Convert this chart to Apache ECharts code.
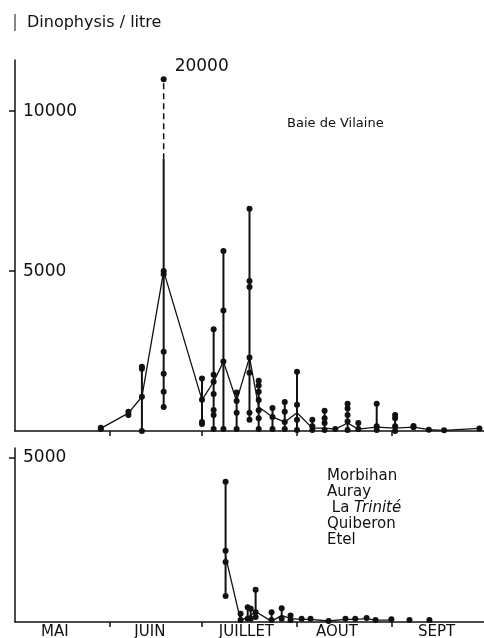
<!DOCTYPE html>
<html>
<head>
<meta charset="utf-8">
<script src="https://cdn.jsdelivr.net/npm/echarts@6/dist/echarts.min.js"></script>
<style>
html, body { margin: 0; padding: 0; background: #fff; }
#chart { width: 484px; height: 638px; }
</style>
</head>
<body>
<div id="chart"></div>
<script>
// x = days counted from 1 May
var monthNames = ['MAI', 'JUIN', 'JUILLET', 'AOUT', 'SEPT'];
var monthLabelDays = [13, 44, 75.5, 105, 137.5];
var monthStartDays = [31, 61, 92, 123];

// Baie de Vilaine : sampling days, mean, station values (Dinophysis / litre)
var vilDays = [28, 37, 41.4, 48.5, 61, 64.8, 68, 72.3, 76.5, 79.5, 84, 88, 92, 97, 101, 104.5, 108.5, 112, 118, 124, 130, 135, 140, 151.5];
var vilMean = [80, 560, 1070, 5000, 975, 1540, 2170, 940, 2300, 750, 440, 280, 570, 90, 90, 60, 250, 60, 120, 90, 120, 40, 20, 80];
var vilSamples = [
    [60, 100], [500, 600], [0, 1070, 1950, 2010], [750, 1230, 1790, 2480, 4900, 5000],
    [220, 280, 975, 1640], [60, 500, 660, 1160, 1540, 1760, 3180], [60, 2170, 3770, 5630],
    [60, 570, 940, 1200], [350, 570, 1820, 2300, 4500, 4690, 6950], [60, 400, 650, 970, 1230, 1420, 1570],
    [60, 440, 720], [60, 280, 600, 910], [30, 350, 820, 1850], [30, 150, 350], [30, 250, 400, 630],
    [60], [30, 300, 500, 700, 850], [60, 250], [30, 150, 850], [0, 150, 400, 500], [120, 160],
    [40], [20], [80]
];
// off-scale maximum (axis broken, drawn dashed)
var vilPeakDay = 48.5;
var vilPeakBreak = 8500;
var vilPeakDrawn = 11000;
var vilPeakLabel = '20000';

// Morbihan, Auray, La Trinité, Quiberon, Etel
var morDays = [68.7, 73.6, 75.9, 76.9, 78.5, 83.7, 87, 89.9, 93.5, 96.4, 102.3, 107.8, 111, 114.7, 117.6, 122.8, 128.7, 135.2];
var morMean = [2000, 40, 150, 200, 320, 20, 200, 100, 80, 80, 30, 80, 80, 100, 60, 60, null, null];
var morSamples = [
    [790, 1830, 2170, 4270], [60, 250], [100, 450], [100, 400], [150, 300, 980], [60, 300],
    [100, 420], [60, 200], [100], [100], [30], [100], [100], [120], [60], [80], [60], [60]
];
var morNames = ['Morbihan', 'Auray', ' La {it|Trinité}', 'Quiberon', 'Etel'];

var ink = '#111';
var font = 'DejaVu Sans';

function pairs(days, vals) {
    var out = [];
    for (var i = 0; i < days.length; i++) out.push([days[i], vals[i]]);
    return out;
}
function dots(days, samples) {
    var out = [];
    for (var i = 0; i < days.length; i++)
        for (var j = 0; j < samples[i].length; j++) out.push([days[i], samples[i][j]]);
    return out;
}
function ranges(days, samples, capDay, capVal) {
    var out = [];
    for (var i = 0; i < days.length; i++) {
        var lo = Math.min.apply(null, samples[i]);
        var hi = Math.max.apply(null, samples[i]);
        if (days[i] === capDay) hi = capVal;
        if (hi > lo) out.push([days[i], lo, hi]);
    }
    return out;
}
function rangeItem(params, api) {
    var a = api.coord([api.value(0), api.value(1)]);
    var b = api.coord([api.value(0), api.value(2)]);
    return { type: 'line', shape: { x1: a[0], y1: a[1], x2: b[0], y2: b[1] },
             style: { stroke: ink, lineWidth: 2 } };
}

function xAxis(idx, showLabels) {
    return {
        type: 'value', gridIndex: idx, min: 0, max: 153,
        axisLine: { show: true, lineStyle: { color: ink, width: 1.5 } },
        splitLine: { show: false },
        axisTick: { show: true, customValues: monthStartDays, length: 5, lineStyle: { color: ink, width: 1.5 } },
        axisLabel: {
            show: showLabels, customValues: monthLabelDays, margin: 3,
            color: ink, fontSize: 15, fontFamily: font,
            formatter: function (v) {
                var i = monthLabelDays.indexOf(v);
                return i >= 0 ? monthNames[i] : '';
            }
        }
    };
}
function yAxis(idx, max, ticks, lift) {
    return {
        type: 'value', gridIndex: idx, min: 0, max: max,
        axisLine: { show: true, lineStyle: { color: ink, width: 1.5 } },
        splitLine: { show: false },
        axisTick: { show: true, customValues: ticks, length: 6, lineStyle: { color: ink, width: 1.5 } },
        axisLabel: { customValues: ticks, inside: true, margin: 8, color: ink,
                     fontSize: 17, fontFamily: font, padding: [0, 0, lift, 0],
                     formatter: function (v) { return String(v); } }
    };
}

var myChart = echarts.init(document.getElementById('chart'));

var graphics = [
    { type: 'line', shape: { x1: 15, y1: 14, x2: 15, y2: 31 }, style: { stroke: ink, lineWidth: 1 } },
    { type: 'text', left: 27, top: 15, style: { text: 'Dinophysis / litre', fill: ink, fontSize: 16, fontFamily: font } },
    { type: 'text', left: 287, top: 117, style: { text: 'Baie de Vilaine', fill: ink, fontSize: 13, fontFamily: font } }
];
for (var k = 0; k < morNames.length; k++) {
    graphics.push({ type: 'text', left: 327, top: 469 + k * 15.8,
        style: { text: morNames[k], fill: ink, fontSize: 15, fontFamily: font,
                 rich: { it: { fontStyle: 'italic', fontSize: 15, fontFamily: font, fill: ink } } } });
}

var option = {
    backgroundColor: '#fff',
    animation: false,
    grid: [
        { left: 15, right: 0, top: 60, height: 371, outerBoundsMode: 'none' },
        { left: 15, right: 0, top: 448, height: 174, outerBoundsMode: 'none' }
    ],
    xAxis: [xAxis(0, false), xAxis(1, true)],
    yAxis: [yAxis(0, 11600, [5000, 10000], 8), yAxis(1, 5300, [5000], 0)],
    graphic: graphics,
    series: [
        { type: 'custom', xAxisIndex: 0, yAxisIndex: 0, renderItem: rangeItem,
          encode: { x: 0, y: [1, 2] }, data: ranges(vilDays, vilSamples, vilPeakDay, vilPeakBreak) },
        { type: 'line', xAxisIndex: 0, yAxisIndex: 0, showSymbol: false,
          lineStyle: { color: ink, width: 1.5, type: [6, 4] },
          data: [[vilPeakDay, vilPeakBreak], [vilPeakDay, vilPeakDrawn]] },
        { type: 'line', xAxisIndex: 0, yAxisIndex: 0, showSymbol: false,
          lineStyle: { color: ink, width: 1.3 }, data: pairs(vilDays, vilMean) },
        { type: 'scatter', xAxisIndex: 0, yAxisIndex: 0, symbolSize: 6,
          itemStyle: { color: ink, opacity: 1 }, data: dots(vilDays, vilSamples) },
        { type: 'scatter', xAxisIndex: 0, yAxisIndex: 0, symbolSize: 6,
          itemStyle: { color: ink, opacity: 1 }, data: [[vilPeakDay, vilPeakDrawn]],
          label: { show: true, position: 'right', offset: [3, -13], formatter: vilPeakLabel,
                   color: ink, fontSize: 17, fontFamily: font } },

        { type: 'custom', xAxisIndex: 1, yAxisIndex: 1, renderItem: rangeItem,
          encode: { x: 0, y: [1, 2] }, data: ranges(morDays, morSamples, null, 0) },
        { type: 'line', xAxisIndex: 1, yAxisIndex: 1, showSymbol: false,
          lineStyle: { color: ink, width: 1.3 }, data: pairs(morDays, morMean) },
        { type: 'scatter', xAxisIndex: 1, yAxisIndex: 1, symbolSize: 6,
          itemStyle: { color: ink, opacity: 1 }, data: dots(morDays, morSamples) }
    ]
};
myChart.setOption(option);
</script>
</body>
</html>
